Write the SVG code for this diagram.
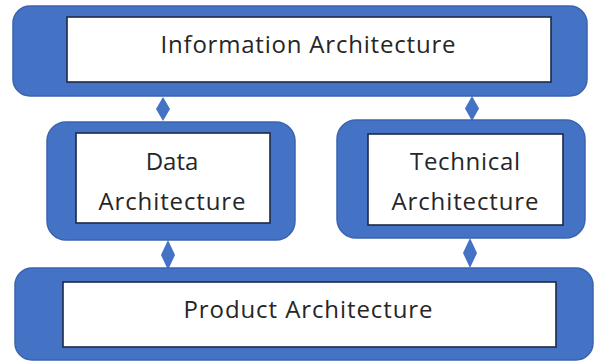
<svg xmlns="http://www.w3.org/2000/svg" width="597" height="362" viewBox="0 0 597 362">
<style>
.outer{fill:#4472C4;stroke:#3A64AE;stroke-width:1.5}
.inner{fill:#FFFFFF;stroke:#1C2A48;stroke-width:1.6}
.lbl{font-family:"Open Sans","Liberation Sans",sans-serif;font-size:24px;fill:#262626;text-anchor:middle}
.dia{fill:#4472C4}
</style>
<rect width="597" height="362" fill="#FFFFFF"/>
<g id="connectors">
<polygon class="dia" points="163,97 170,109 163,121 156,109"/>
<polygon class="dia" points="472,96 479,108.5 472,121 465,108.5"/>
<polygon class="dia" points="168,240 175,255 168,270 161,255"/>
<polygon class="dia" points="470,238 477,253 470,268 463,253"/>
</g>
<g id="information">
<rect class="outer" x="13" y="6" width="574" height="90" rx="17"/>
<rect class="inner" x="67" y="17" width="484" height="65"/>
<text class="lbl" x="308" y="53" textLength="295" lengthAdjust="spacing">Information Architecture</text>
</g>
<g id="data">
<rect class="outer" x="47" y="122" width="248" height="118" rx="19"/>
<rect class="inner" x="76" y="133" width="194" height="90"/>
<text class="lbl" x="172" y="170">Data</text>
<text class="lbl" x="172" y="210" textLength="147" lengthAdjust="spacing">Architecture</text>
</g>
<g id="technical">
<rect class="outer" x="337" y="120" width="248" height="118" rx="19"/>
<rect class="inner" x="368" y="134" width="195" height="91"/>
<text class="lbl" x="465" y="170" textLength="110" lengthAdjust="spacing">Technical</text>
<text class="lbl" x="465" y="210" textLength="147" lengthAdjust="spacing">Architecture</text>
</g>
<g id="product">
<rect class="outer" x="15" y="268" width="578" height="92" rx="17"/>
<rect class="inner" x="63" y="282" width="493" height="65"/>
<text class="lbl" x="308" y="318" textLength="249" lengthAdjust="spacing">Product Architecture</text>
</g>
</svg>
